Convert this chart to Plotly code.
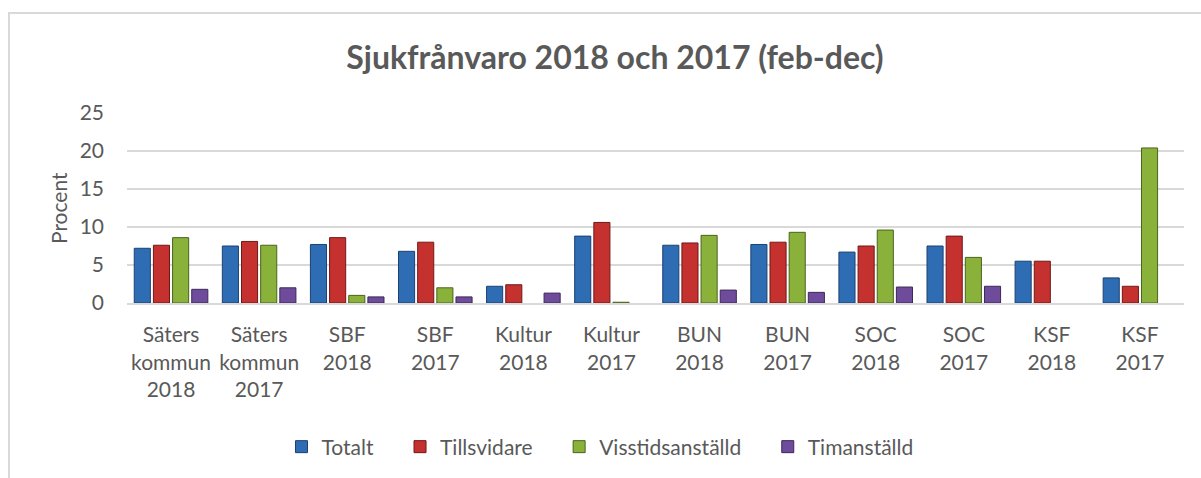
import plotly.graph_objects as go

categories = ["Säters<br>kommun<br>2018", "Säters<br>kommun<br>2017", "SBF<br>2018", "SBF<br>2017",
              "Kultur<br>2018", "Kultur<br>2017", "BUN<br>2018", "BUN<br>2017",
              "SOC<br>2018", "SOC<br>2017", "KSF<br>2018", "KSF<br>2017"]
totalt = [7.2, 7.5, 7.7, 6.8, 2.2, 8.8, 7.6, 7.7, 6.7, 7.5, 5.5, 3.3]
tillsvidare = [7.6, 8.1, 8.6, 8.0, 2.4, 10.6, 7.9, 8.0, 7.5, 8.8, 5.5, 2.2]
visstid = [8.6, 7.6, 1.0, 2.0, None, 0.1, 8.9, 9.3, 9.6, 6.0, None, 20.4]
timanst = [1.8, 2.0, 0.8, 0.8, 1.3, None, 1.7, 1.4, 2.1, 2.2, None, None]
series_names = ["Totalt", "Tillsvidare", "Visstidsanställd", "Timanställd"]

colors = ["#2E6DB4", "#C4312F", "#8AB23A", "#6F4C9B"]
edges = ["#1B4170", "#6E1A18", "#4A6320", "#3C2857"]

FONT = "Lato, 'Open Sans', sans-serif"
GREY = "#595959"
PAD = "\u00a0" * 4

fig = go.Figure()
for i, (name, vals) in enumerate(zip(series_names, [totalt, tillsvidare, visstid, timanst])):
    label = name + (PAD if i < len(series_names) - 1 else "")
    fig.add_trace(go.Bar(x=categories, y=vals, name=label,
                         marker=dict(color=colors[i], line=dict(color=edges[i], width=1))))

L, R, T, B = 127, 17, 113, 175
W, H = 1201 - L - R, 478 - T - B

def px_x(p):
    return (p - L) / W

def px_y(p):
    return (478 - B - p) / H

fig.update_layout(
    width=1201, height=478,
    margin=dict(l=L, r=R, t=T, b=B),
    paper_bgcolor="white", plot_bgcolor="white",
    barmode="group", bargap=0.13, bargroupgap=0.16,
    font=dict(family=FONT, color=GREY, size=20),
    title=dict(text="<b>Sjukfrånvaro 2018 och 2017 (feb-dec)</b>", x=615 / 1201, xanchor="center",
               y=1 - 58 / 478, yanchor="middle", yref="container",
               font=dict(size=32, color=GREY, family=FONT)),
    legend=dict(orientation="h", x=600 / 1201, xanchor="center", xref="container",
                y=1 - 447 / 478, yanchor="middle", yref="container",
                font=dict(size=21, color=GREY), itemwidth=30, traceorder="normal"),
    showlegend=True,
)
fig.update_yaxes(range=[0, 25], dtick=5, showgrid=True, gridcolor="#D9D9D9", gridwidth=1.5,
                 zeroline=False, showline=False, ticklabelstandoff=22,
                 tickfont=dict(size=21, color=GREY))
fig.update_xaxes(showline=True, linecolor="#D9D9D9", linewidth=2, ticks="",
                 tickfont=dict(size=21, color=GREY), ticklabelstandoff=12)

fig.add_annotation(text="Procent", xref="paper", yref="paper", x=px_x(58), y=0.5,
                   textangle=-90, showarrow=False, font=dict(size=21, color=GREY),
                   xanchor="center", yanchor="middle")

# chart frame
fig.add_shape(type="path", xref="paper", yref="paper",
              path=f"M {px_x(9)} {px_y(490)} L {px_x(9)} {px_y(13)} L {px_x(1215)} {px_y(13)}",
              line=dict(color="#D9D9D9", width=2), layer="below")

fig.write_html("out.html")
